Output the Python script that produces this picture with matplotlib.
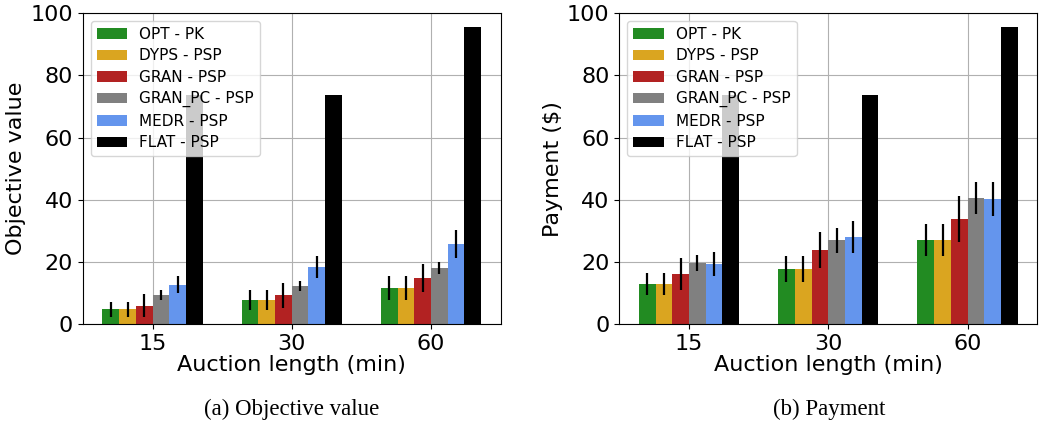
import matplotlib
matplotlib.use("Agg")
import matplotlib.pyplot as plt
import numpy as np

lengths = ["15", "30", "60"]
methods = ["OPT - PK", "DYPS - PSP", "GRAN - PSP", "GRAN_PC - PSP", "MEDR - PSP", "FLAT - PSP"]
colors = ["#228B22", "#DAA520", "#B22222", "#808080", "#6495ED", "#000000"]

obj_means = [
    [4.8, 7.7, 11.6],
    [4.8, 7.7, 11.6],
    [5.9, 9.3, 14.8],
    [9.3, 12.2, 18.0],
    [12.6, 18.3, 25.7],
    [73.7, 73.7, 95.6],
]
obj_errs = [
    [2.4, 3.3, 4.0],
    [2.4, 3.3, 4.0],
    [3.6, 4.0, 4.5],
    [1.6, 1.7, 2.0],
    [2.7, 3.5, 4.5],
    [0, 0, 0],
]
pay_means = [
    [12.9, 17.7, 27.0],
    [12.9, 17.7, 27.0],
    [16.1, 23.8, 33.8],
    [19.7, 27.0, 40.6],
    [19.3, 28.0, 40.1],
    [73.7, 73.7, 95.6],
]
pay_errs = [
    [3.6, 4.3, 5.2],
    [3.6, 4.3, 5.2],
    [5.3, 5.9, 7.5],
    [2.5, 4.0, 5.1],
    [4.0, 5.3, 5.5],
    [0, 0, 0],
]

fig = plt.figure(figsize=(10.41, 4.37), dpi=100)
ax1 = fig.add_axes([0.0797, 0.2586, 0.4012, 0.711])
ax2 = fig.add_axes([0.5949, 0.2586, 0.4015, 0.711])

x = np.arange(len(lengths))
w = 0.12

def draw(ax, means, errs, ylabel):
    ax.set_axisbelow(True)
    ax.grid(True, color="#b0b0b0", linewidth=0.8)
    for i, (m, c) in enumerate(zip(methods, colors)):
        e = errs[i]
        ax.bar(x + (i - 2.5) * w, means[i], w, color=c, label=m,
               yerr=e if any(v > 0 for v in e) else None,
               error_kw=dict(ecolor="black", elinewidth=1.6, capsize=0))
    ax.set_xlim(-0.5, 2.5)
    ax.set_ylim(0, 100)
    ax.set_xticks(x)
    ax.set_xticklabels(lengths)
    ax.set_yticks([0, 20, 40, 60, 80, 100])
    ax.tick_params(labelsize=16)
    ax.set_xlabel("Auction length (min)", fontsize=16, labelpad=1)
    ax.set_ylabel(ylabel, fontsize=16, labelpad=3)
    ax.legend(loc="upper left", fontsize=11, labelspacing=0.42)

draw(ax1, obj_means, obj_errs, "Objective value")
draw(ax2, pay_means, pay_errs, r"Payment (\$)")

fig.text(0.28, 0.062, "(a) Objective value", ha="center", va="center",
         family="Liberation Serif", fontsize=16.5)
fig.text(0.797, 0.062, "(b) Payment", ha="center", va="center",
         family="Liberation Serif", fontsize=16.5)

fig.savefig("out.png", dpi=100)
